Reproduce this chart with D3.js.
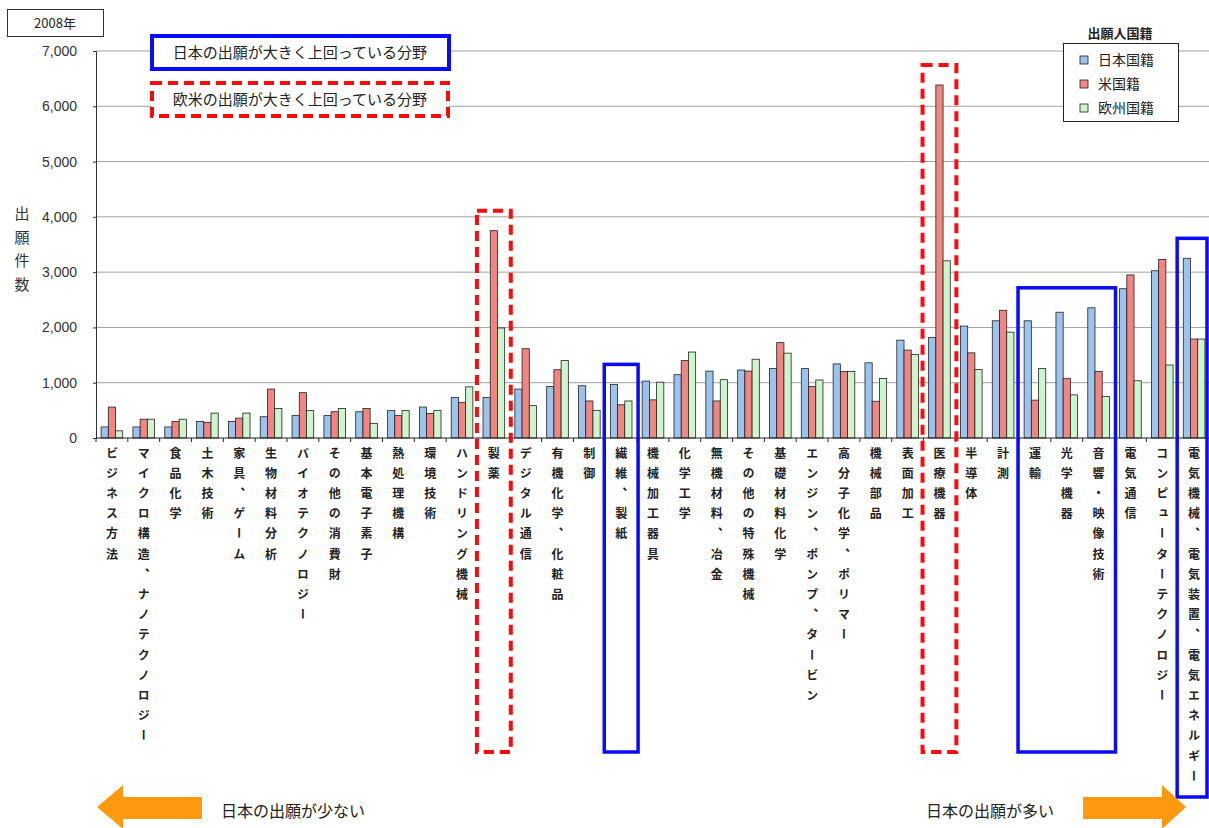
<!DOCTYPE html>
<html>
<head>
<meta charset="utf-8">
<script src="https://cdnjs.cloudflare.com/ajax/libs/d3/7.8.5/d3.min.js"></script>
<style>
body { margin: 0; background: #fff; }
text { font-family: "Liberation Sans", Arial, "Noto Sans CJK JP", sans-serif; }
.jp { font-family: "Noto Sans CJK JP", sans-serif; }
</style>
</head>
<body>
<script>
// categories sorted by Japanese share (low -> high)
var categories = ["ビジネス方法", "マイクロ構造、ナノテクノロジー", "食品化学", "土木技術", "家具、ゲーム",
	"生物材料分析", "バイオテクノロジー", "その他の消費財", "基本電子素子", "熱処理機構", "環境技術",
	"ハンドリング機械", "製薬", "デジタル通信", "有機化学、化粧品", "制御", "繊維、製紙", "機械加工器具",
	"化学工学", "無機材料、冶金", "その他の特殊機械", "基礎材料化学", "エンジン、ポンプ、タービン",
	"高分子化学、ポリマー", "機械部品", "表面加工", "医療機器", "半導体", "計測", "運輸", "光学機器",
	"音響・映像技術", "電気通信", "コンピューターテクノロジー", "電気機械、電気装置、電気エネルギー"];

var japan  = [200, 200, 200, 300, 300, 385, 405, 405, 475, 495, 560, 735, 735, 885, 930, 945, 970, 1030,
	1145, 1210, 1230, 1255, 1255, 1340, 1360, 1770, 1820, 2025, 2120, 2120, 2275, 2355, 2700, 3025, 3250];
var usa    = [560, 340, 300, 280, 360, 885, 820, 475, 535, 405, 445, 645, 3750, 1615, 1235, 670, 600, 690,
	1400, 670, 1210, 1725, 930, 1205, 665, 1590, 6385, 1540, 2310, 685, 1080, 1205, 2950, 3230, 1790];
var europe = [130, 340, 340, 450, 450, 535, 495, 535, 265, 495, 500, 925, 1990, 585, 1400, 500, 670, 1010,
	1555, 1055, 1425, 1535, 1050, 1205, 1075, 1510, 3205, 1240, 1915, 1255, 780, 750, 1035, 1320, 1790];

var seriesNames = ["日本国籍", "米国籍", "欧州国籍"];
var yTicks = [0, 1000, 2000, 3000, 4000, 5000, 6000, 7000];

// highlighted groups
var japanLead = [["繊維、製紙"], ["運輸", "光学機器", "音響・映像技術"], ["電気機械、電気装置、電気エネルギー"]];
var westLead = [["製薬"], ["医療機器"]];

var colors = ["#9ac4ee", "#f08582", "#cdf4cd"];
var series = [japan, usa, europe];

var width = 1209, height = 828;
var svg = d3.select("body").append("svg")
	.attr("width", width)
	.attr("height", height);

var x = d3.scaleBand()
	.domain(categories)
	.range([96, 1210])
	.paddingInner(0.32)
	.paddingOuter(0.16);

var x1 = d3.scaleBand()
	.domain([0, 1, 2])
	.range([0, x.bandwidth()]);

var y = d3.scaleLinear()
	.domain([0, 7000])
	.range([438, 51]);

// grid
svg.append("g").selectAll("line")
	.data(yTicks.slice(1))
	.enter().append("line")
	.attr("x1", x.range()[0]).attr("x2", x.range()[1])
	.attr("y1", function(d) { return y(d); })
	.attr("y2", function(d) { return y(d); })
	.attr("stroke", "#a0a0a0");

// y axis
var yAxis = svg.append("g")
	.attr("transform", "translate(" + x.range()[0] + ",0)")
	.call(d3.axisLeft(y).tickValues(yTicks).tickSize(3).tickPadding(16).tickFormat(d3.format(",")));
yAxis.select(".domain").attr("stroke", "#333");
yAxis.selectAll("line").attr("stroke", "#333");
yAxis.selectAll("text").attr("font-size", 14).attr("fill", "#333")
	.style("font-family", "'Liberation Sans', Arial, sans-serif");

// bars
var groups = svg.append("g").selectAll("g")
	.data(categories)
	.enter().append("g")
	.attr("transform", function(d) { return "translate(" + x(d) + ",0)"; });

groups.selectAll("rect")
	.data(function(d, i) { return series.map(function(s, k) { return {k: k, v: s[i]}; }); })
	.enter().append("rect")
	.attr("x", function(d) { return x1(d.k); })
	.attr("width", x1.bandwidth())
	.attr("y", function(d) { return y(d.v); })
	.attr("height", function(d) { return y(0) - y(d.v); })
	.attr("fill", function(d) { return colors[d.k]; })
	.attr("stroke", "#222")
	.attr("stroke-width", 0.8);

// x baseline and ticks between categories
svg.append("line")
	.attr("x1", x.range()[0]).attr("x2", x.range()[1])
	.attr("y1", y(0)).attr("y2", y(0))
	.attr("stroke", "#222");
svg.append("g").selectAll("line")
	.data(d3.range(categories.length + 1))
	.enter().append("line")
	.attr("x1", function(i) { return x.range()[0] + i * x.step(); })
	.attr("x2", function(i) { return x.range()[0] + i * x.step(); })
	.attr("y1", y(0)).attr("y2", y(0) + 4)
	.attr("stroke", "#222");

// vertical category labels
svg.append("g").selectAll("text")
	.data(categories)
	.enter().append("text")
	.attr("class", "jp")
	.attr("x", function(d) { return x(d) + x.bandwidth() / 2; })
	.attr("y", 447)
	.attr("font-size", 12)
	.attr("font-weight", "bold")
	.attr("fill", "#222")
	.style("writing-mode", "vertical-rl")
	.style("letter-spacing", "8.2px")
	.text(function(d) { return d; });

// highlight boxes
function boxFor(cats, bottom) {
	var pad = x.step() * 0.16 + 1;
	var x0 = x(cats[0]) - pad;
	var xEnd = x(cats[cats.length - 1]) + x.bandwidth() + pad;
	var maxV = d3.max(cats, function(c) {
		var i = categories.indexOf(c);
		return Math.max(japan[i], usa[i], europe[i]);
	});
	var top = y(maxV) - 20;
	return {x: x0, y: top, w: xEnd - x0, h: bottom - top};
}

westLead.forEach(function(cats) {
	var b = boxFor(cats, 752);
	svg.append("rect")
		.attr("x", b.x).attr("y", b.y).attr("width", b.w).attr("height", b.h)
		.attr("fill", "none").attr("stroke", "#ff0a0a")
		.attr("stroke-width", 4).attr("stroke-dasharray", "10,6");
});
japanLead.forEach(function(cats, i) {
	var b = boxFor(cats, i == 2 ? 797 : 752);
	svg.append("rect")
		.attr("x", b.x).attr("y", b.y).attr("width", Math.min(b.w, width - 2 - b.x)).attr("height", b.h)
		.attr("fill", "none").attr("stroke", "#0a0aff")
		.attr("stroke-width", 3.5);
});

// key boxes top left
svg.append("rect")
	.attr("x", 152).attr("y", 36).attr("width", 297).attr("height", 33)
	.attr("fill", "#fff").attr("stroke", "#0a0aff").attr("stroke-width", 4);
svg.append("text").attr("class", "jp")
	.attr("x", 300).attr("y", 58).attr("text-anchor", "middle")
	.attr("font-size", 15).attr("fill", "#222")
	.text("日本の出願が大きく上回っている分野");
svg.append("rect")
	.attr("x", 152).attr("y", 83).attr("width", 296).attr("height", 33)
	.attr("fill", "#fff").attr("stroke", "#ff0a0a").attr("stroke-width", 4)
	.attr("stroke-dasharray", "10,6");
svg.append("text").attr("class", "jp")
	.attr("x", 300).attr("y", 105).attr("text-anchor", "middle")
	.attr("font-size", 15).attr("fill", "#222")
	.text("欧米の出願が大きく上回っている分野");

// year box
svg.append("rect")
	.attr("x", 7.5).attr("y", 9.5).attr("width", 96).attr("height", 27)
	.attr("fill", "#fff").attr("stroke", "#333");
svg.append("text").attr("class", "jp")
	.attr("x", 55).attr("y", 28).attr("text-anchor", "middle")
	.attr("font-size", 13).attr("fill", "#222")
	.text("2008年");

// y title, one char per line
svg.append("g").selectAll("text")
	.data("出願件数".split(""))
	.enter().append("text")
	.attr("class", "jp")
	.attr("x", 22)
	.attr("y", function(d, i) { return 219 + i * 23.5; })
	.attr("text-anchor", "middle")
	.attr("font-size", 15)
	.attr("fill", "#333")
	.text(function(d) { return d; });

// legend
svg.append("text").attr("class", "jp")
	.attr("x", 1120).attr("y", 38).attr("text-anchor", "middle")
	.attr("font-size", 13).attr("font-weight", "bold").attr("fill", "#222")
	.text("出願人国籍");
svg.append("rect")
	.attr("x", 1063.5).attr("y", 43.5).attr("width", 115).attr("height", 78)
	.attr("fill", "#fff").attr("stroke", "#222");
var legend = svg.append("g").selectAll("g")
	.data(seriesNames)
	.enter().append("g")
	.attr("transform", function(d, i) { return "translate(1080," + (60 + i * 24) + ")"; });
legend.append("rect")
	.attr("x", 0).attr("y", -4).attr("width", 8).attr("height", 8)
	.attr("fill", function(d, i) { return colors[i]; })
	.attr("stroke", "#222").attr("stroke-width", 0.8);
legend.append("text").attr("class", "jp")
	.attr("x", 18).attr("y", 5)
	.attr("font-size", 14).attr("fill", "#222")
	.text(function(d) { return d; });

// bottom arrows
var cy = 807;
svg.append("path")
	.attr("d", "M97," + cy + " L123," + (cy - 22) + " L123," + (cy - 10) + " L202," + (cy - 10) +
		" L202," + (cy + 12) + " L123," + (cy + 12) + " L123," + (cy + 22) + " Z")
	.attr("fill", "#ff9a10");
svg.append("text").attr("class", "jp")
	.attr("x", 221).attr("y", cy + 10)
	.attr("font-size", 16).attr("fill", "#222")
	.text("日本の出願が少ない");
svg.append("path")
	.attr("d", "M1186," + cy + " L1162," + (cy - 22) + " L1162," + (cy - 10) + " L1083," + (cy - 10) +
		" L1083," + (cy + 12) + " L1162," + (cy + 12) + " L1162," + (cy + 22) + " Z")
	.attr("fill", "#ff9a10");
svg.append("text").attr("class", "jp")
	.attr("x", 926).attr("y", cy + 10)
	.attr("font-size", 16).attr("fill", "#222")
	.text("日本の出願が多い");
</script>
</body>
</html>
